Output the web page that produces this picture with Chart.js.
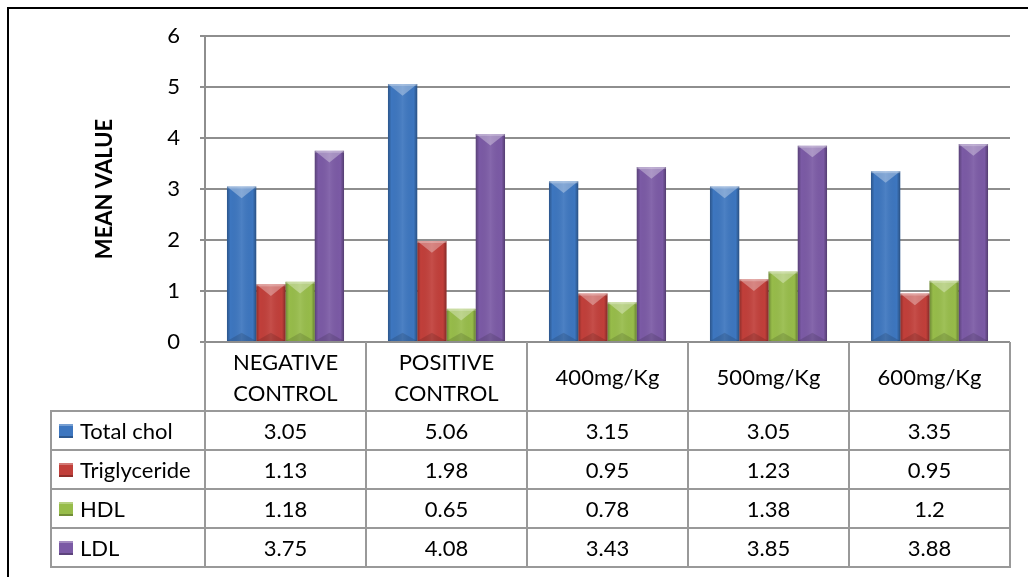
<!DOCTYPE html>
<html>
<head>
<meta charset="utf-8">
<script src="https://cdn.jsdelivr.net/npm/chart.js"></script>
<style>
    body { margin: 0; background: #fff; }
    #wrap { position: relative; width: 1028px; height: 577px; overflow: hidden; font-family: Lato, "Open Sans", sans-serif; color: #000; }
    #frame { position: absolute; left: 7px; top: 7px; width: 1100px; height: 700px; border-top: 2px solid #000; border-left: 2px solid #000; }
    canvas { position: absolute; left: 0; top: 0; }
    .ln { position: absolute; background: #999; }
    .cell { position: absolute; display: flex; align-items: center; justify-content: center; text-align: center; font-size: 22px; line-height: 31px; white-space: nowrap; }
    .name { justify-content: flex-start; padding-left: 8px; box-sizing: border-box; }
    .key { display: inline-block; width: 14px; height: 14px; margin-right: 7px; }
</style>
</head>
<body>
<div id="wrap">
    <div id="frame"></div>
    <canvas id="chart" width="1028" height="577"></canvas>
</div>
<script>
const categories = [["NEGATIVE", "CONTROL"], ["POSITIVE", "CONTROL"], "400mg/Kg", "500mg/Kg", "600mg/Kg"];
const seriesNames = ["Total chol", "Triglyceride", "HDL", "LDL"];
const totalChol = [3.05, 5.06, 3.15, 3.05, 3.35];
const triglyceride = [1.13, 1.98, 0.95, 1.23, 0.95];
const hdl = [1.18, 0.65, 0.78, 1.38, 1.2];
const ldl = [3.75, 4.08, 3.43, 3.85, 3.88];
const yTicks = [0, 1, 2, 3, 4, 5, 6];

const seriesValues = [totalChol, triglyceride, hdl, ldl];
const seriesColors = ["#3d76bf", "#c13f3a", "#97bc4a", "#7b5aa5"];
const gridColor = "#8e8e8e";

// Excel-like bevel on each bar, drawn over the bars the library placed
const bevelPlugin = {
    id: "bevel",
    afterDatasetsDraw(chart) {
        const ctx = chart.ctx;
        chart.data.datasets.forEach((ds, di) => {
            chart.getDatasetMeta(di).data.forEach(bar => {
                const p = bar.getProps(["x", "y", "base", "width"], true);
                const left = p.x - p.width / 2, right = p.x + p.width / 2;
                const h = p.base - p.y;
                const d = Math.min(p.width * 0.4, h / 2);
                ctx.save();
                let g = ctx.createLinearGradient(left, 0, right, 0);
                g.addColorStop(0, "rgba(0,0,0,0.28)");
                g.addColorStop(0.12, "rgba(0,0,0,0)");
                g.addColorStop(0.5, "rgba(255,255,255,0.08)");
                g.addColorStop(0.88, "rgba(0,0,0,0)");
                g.addColorStop(1, "rgba(0,0,0,0.32)");
                ctx.fillStyle = g;
                ctx.fillRect(left, p.y, p.width, h);
                // top highlight (V shape)
                ctx.fillStyle = "rgba(255,255,255,0.32)";
                ctx.beginPath();
                ctx.moveTo(left, p.y);
                ctx.lineTo(right, p.y);
                ctx.lineTo(p.x, p.y + d);
                ctx.closePath();
                ctx.fill();
                ctx.fillStyle = "rgba(255,255,255,0.25)";
                ctx.fillRect(left, p.y, p.width, 2);
                // bottom shade
                ctx.fillStyle = "rgba(0,0,0,0.13)";
                ctx.beginPath();
                ctx.moveTo(left, p.base);
                ctx.lineTo(right, p.base);
                ctx.lineTo(p.x, p.base - d * 0.7);
                ctx.closePath();
                ctx.fill();
                ctx.restore();
            });
        });
    }
};

const chart = new Chart(document.getElementById("chart"), {
    type: "bar",
    data: {
        labels: categories,
        datasets: seriesNames.map((name, i) => ({
            label: name,
            data: seriesValues[i],
            backgroundColor: seriesColors[i],
            categoryPercentage: 0.727,
            barPercentage: 1.0
        }))
    },
    options: {
        responsive: false,
        animation: false,
        layout: { padding: { left: 92, right: 18, top: 36, bottom: 235 } },
        plugins: {
            legend: { display: false },
            tooltip: { enabled: false }
        },
        scales: {
            x: { display: false },
            y: {
                min: 0,
                max: 6,
                afterBuildTicks: scale => { scale.ticks = yTicks.map(v => ({ value: v })); },
                afterFit: scale => { scale.width = 113; },
                ticks: { color: "#000", padding: 20, font: { family: "Lato", size: 22 } },
                grid: { color: gridColor, lineWidth: 2, tickLength: 5 },
                border: { color: gridColor, width: 2 },
                title: {
                    display: true,
                    text: "MEAN VALUE",
                    color: "#000",
                    padding: { top: 0, bottom: 0 },
                    font: { family: "Lato", size: 22, weight: "bold" }
                }
            }
        }
    },
    plugins: [bevelPlugin]
});

// Data table under the plot, columns taken from the x scale
function buildTable() {
    const wrap = document.getElementById("wrap");
    const xs = chart.scales.x;
    const step = xs.width / categories.length;
    const tableLeft = 51, headerH = 69, rowH = 39;
    const cols = [tableLeft];
    for (let i = 0; i <= categories.length; i++) cols.push(xs.left + i * step);
    const top = chart.chartArea.bottom;
    const rows = [top, top + headerH];
    seriesNames.forEach(() => rows.push(rows[rows.length - 1] + rowH));
    const bottom = rows[rows.length - 1];
    const right = cols[cols.length - 1];

    function line(x, y, w, h) {
        const d = document.createElement("div");
        d.className = "ln";
        d.style.left = x + "px"; d.style.top = y + "px";
        d.style.width = w + "px"; d.style.height = h + "px";
        wrap.appendChild(d);
    }
    function cell(x, y, w, h, html, cls) {
        const d = document.createElement("div");
        d.className = "cell" + (cls ? " " + cls : "");
        d.style.left = x + "px"; d.style.top = y + "px";
        d.style.width = w + "px"; d.style.height = h + "px";
        d.innerHTML = html;
        wrap.appendChild(d);
    }

    line(cols[0] - 1, rows[1] - 1, 2, bottom - rows[1] + 2);
    for (let i = 1; i < cols.length; i++) line(cols[i] - 1, rows[0], 2, bottom - rows[0] + 1);
    for (let r = 1; r < rows.length; r++) line(cols[0] - 1, rows[r] - 1, right - cols[0] + 2, 2);

    categories.forEach((c, i) => {
        const txt = Array.isArray(c) ? c.join("<br>") : c;
        cell(cols[i + 1], rows[0], step, headerH, txt);
    });
    seriesNames.forEach((name, s) => {
        const col = seriesColors[s];
        const key = `<span class="key" style="background:${col}; box-shadow: inset 0 -2px 0 rgba(0,0,0,0.25), inset 0 2px 0 rgba(255,255,255,0.3);"></span>`;
        cell(cols[0], rows[s + 1], cols[1] - cols[0], rowH, key + name, "name");
        seriesValues[s].forEach((v, i) => {
            cell(cols[i + 1], rows[s + 1], step, rowH, String(v));
        });
    });
}
buildTable();
</script>
</body>
</html>
